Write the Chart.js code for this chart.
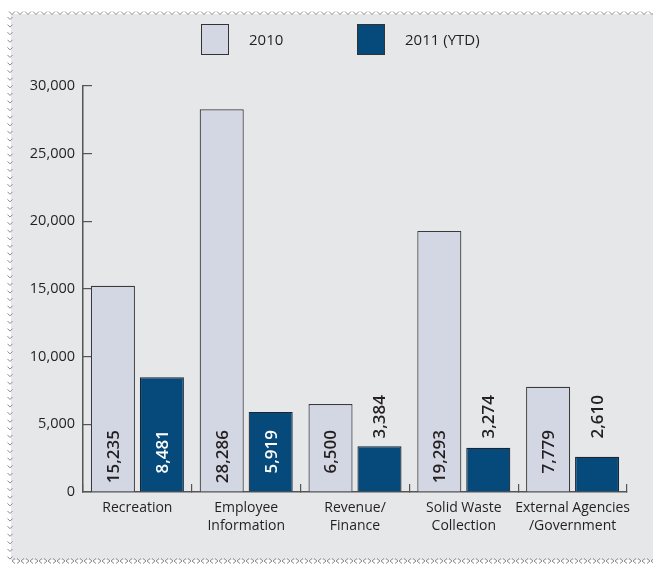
<!DOCTYPE html>
<html>
<head>
<meta charset="utf-8">
<script src="https://cdn.jsdelivr.net/npm/chart.js@4/dist/chart.umd.min.js"></script>
<style>
  html, body { margin: 0; padding: 0; background: #ffffff; }
  #wrap { position: relative; width: 653px; height: 565px; }
</style>
</head>
<body>
<div id="wrap"><canvas id="chart" width="653" height="565"></canvas></div>
<script>
// Call volume by department
const categories = ['Recreation', ['Employee', 'Information'], ['Revenue/', 'Finance'], ['Solid Waste', 'Collection'], ['External Agencies', '/Government']];
const seriesNames = ['2010', '2011 (YTD)'];
const values2010 = [15235, 28286, 6500, 19293, 7779];
const values2011 = [8481, 5919, 3384, 3274, 2610];
const yTicks = [0, 5000, 10000, 15000, 20000, 25000, 30000];

const LIGHT = '#d3d7e3';
const DARK = '#054a7b';
const PANEL = '#e6e7e9';
const INK = '#231f20';
const fmt = v => v.toLocaleString('en-US');

// Grey panel with a chevron edge on top, left and bottom
const panelPlugin = {
  id: 'panel',
  beforeDraw(chart) {
    const ctx = chart.ctx;
    const W = chart.width, H = chart.height;
    ctx.save();
    ctx.fillStyle = '#ffffff';
    ctx.fillRect(0, 0, W, H);
    ctx.fillStyle = PANEL;
    ctx.fillRect(11, 14, W - 11, 546);
    ctx.strokeStyle = '#8a8a8a';
    ctx.lineWidth = 1;
    ctx.beginPath();
    for (let x = 9; x < W; x += 8) {
      ctx.moveTo(x, 11.5); ctx.lineTo(x + 3, 14.5); ctx.lineTo(x + 6, 11.5);
    }
    for (let y = 17; y < 558; y += 7.6) {
      ctx.moveTo(7.5, y); ctx.lineTo(10, y + 2.5); ctx.lineTo(12.5, y);
    }
    for (let x = 12; x < W; x += 9) {
      ctx.moveTo(x + 3, 558.5); ctx.lineTo(x, 561); ctx.lineTo(x + 3, 563.5);
      ctx.moveTo(x + 5, 558.5); ctx.lineTo(x + 8, 561); ctx.lineTo(x + 5, 563.5);
    }
    ctx.stroke();
    ctx.restore();
  }
};

// Legend drawn as large swatches with labels beside them
const legendPlugin = {
  id: 'swatchLegend',
  afterDraw(chart, args, opts) {
    const ctx = chart.ctx;
    ctx.save();
    ctx.font = '15px "Open Sans"';
    ctx.textBaseline = 'middle';
    ctx.textAlign = 'left';
    chart.data.datasets.forEach((ds, i) => {
      const x = opts.starts[i];
      ctx.fillStyle = ds.backgroundColor;
      ctx.fillRect(x, opts.top, opts.boxW, opts.boxH);
      ctx.strokeStyle = '#333';
      ctx.lineWidth = 1;
      ctx.strokeRect(x + 0.5, opts.top + 0.5, opts.boxW - 1, opts.boxH - 1);
      ctx.fillStyle = INK;
      ctx.fillText(ds.label, x + opts.boxW + opts.gap, opts.top + opts.boxH / 2 + 1);
    });
    ctx.restore();
  }
};

// Vertical value labels: inside tall bars, above short ones
const valueLabelPlugin = {
  id: 'valueLabels',
  afterDatasetsDraw(chart) {
    const ctx = chart.ctx;
    const bottom = chart.chartArea.bottom;
    ctx.save();
    ctx.font = '600 17px "Open Sans"';
    ctx.textBaseline = 'middle';
    ctx.textAlign = 'right';
    chart.data.datasets.forEach((ds, di) => {
      const meta = chart.getDatasetMeta(di);
      meta.data.forEach((bar, i) => {
        const v = ds.data[i];
        const inside = v > 5000;
        const topY = inside ? bottom - 62 : bottom - 97;
        ctx.save();
        ctx.translate(bar.x + 1, topY);
        ctx.rotate(-Math.PI / 2);
        ctx.fillStyle = inside && di === 1 ? '#ffffff' : INK;
        ctx.fillText(fmt(v), 0, 0);
        ctx.restore();
      });
    });
    ctx.restore();
  }
};

new Chart(document.getElementById('chart'), {
  type: 'bar',
  data: {
    labels: categories,
    datasets: [
      { label: seriesNames[0], data: values2010, backgroundColor: LIGHT, borderColor: '#3a3a3a', borderWidth: 1.2 },
      { label: seriesNames[1], data: values2011, backgroundColor: DARK, borderColor: '#1b2533', borderWidth: 1.2 }
    ]
  },
  options: {
    responsive: false,
    animation: false,
    layout: { padding: { left: 0, right: 26, top: 86, bottom: 0 } },
    datasets: { bar: { categoryPercentage: 0.9, barPercentage: 0.9 } },
    plugins: {
      legend: { display: false },
      tooltip: { enabled: false },
      swatchLegend: { starts: [201, 357], top: 24, boxW: 28, boxH: 31, gap: 20 }
    },
    scales: {
      x: {
        offset: true,
        grid: { offset: true, drawOnChartArea: false, tickLength: -8, color: '#555', lineWidth: 1.2 },
        border: { display: true, color: '#555', width: 1.5 },
        ticks: { color: INK, font: { family: 'Open Sans', size: 14, lineHeight: 1.3 }, padding: 15, maxRotation: 0, autoSkip: false },
        afterFit(scale) { scale.height = 73; }
      },
      y: {
        min: 0,
        max: 30000,
        afterBuildTicks(scale) { scale.ticks = yTicks.map(v => ({ value: v })); },
        grid: { drawOnChartArea: false, tickLength: -9, color: '#555', lineWidth: 1.2 },
        border: { display: true, color: '#555', width: 1.5 },
        ticks: { color: INK, font: { family: 'Open Sans', size: 14.5 }, padding: 17, callback: v => fmt(v) },
        afterFit(scale) { scale.width = 83; }
      }
    }
  },
  plugins: [panelPlugin, legendPlugin, valueLabelPlugin]
});
</script>
</body>
</html>
